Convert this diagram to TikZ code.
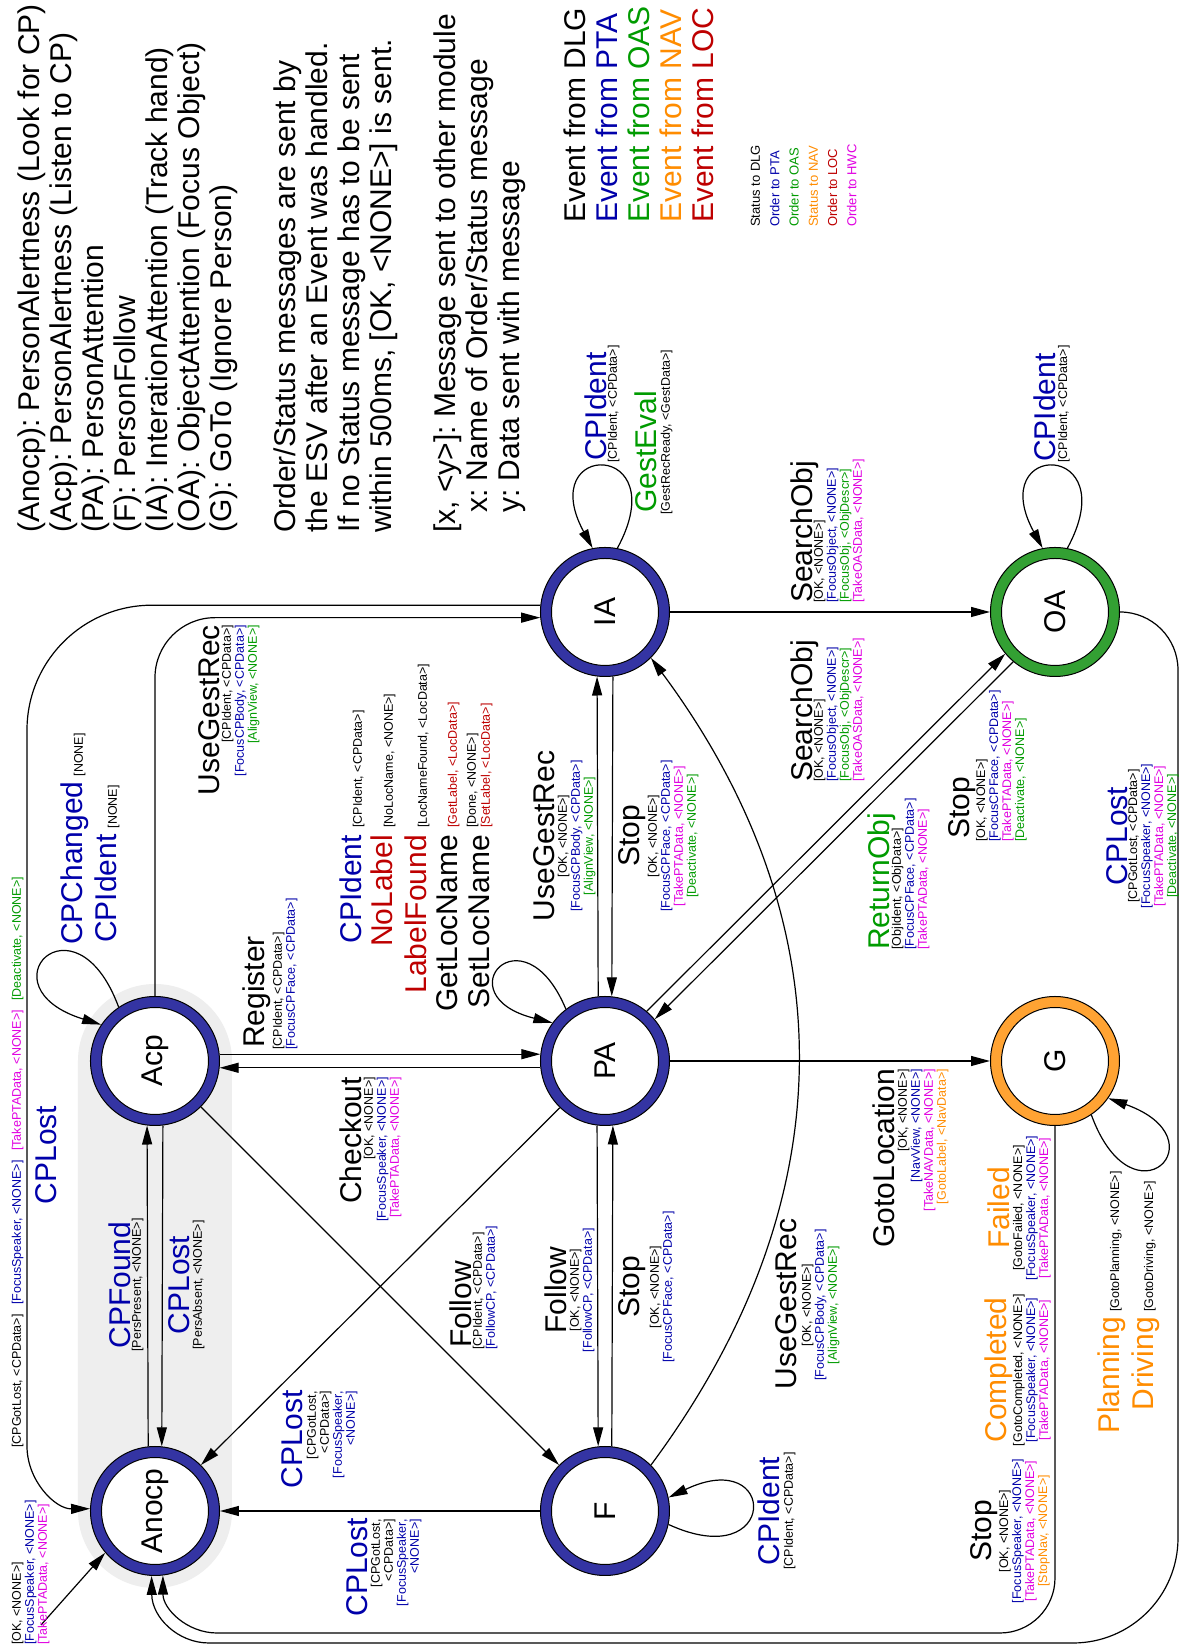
\documentclass[tikz,border=0pt]{standalone}
\usepackage{fontspec}
\setmainfont{Liberation Sans}
\usetikzlibrary{arrows.meta}
\frenchspacing

\definecolor{ringblue}{RGB}{52,52,163}
\definecolor{ringgreen}{RGB}{51,160,51}
\definecolor{ringorange}{RGB}{255,163,51}
\definecolor{txtblue}{RGB}{0,0,170}
\definecolor{txtgreen}{RGB}{0,155,0}
\definecolor{txtorange}{RGB}{255,140,0}
\definecolor{txtred}{RGB}{190,0,0}
\definecolor{txtmag}{RGB}{225,0,225}
\definecolor{bggray}{RGB}{238,238,238}

\newcommand\lblbig{\fontsize{30}{32}\selectfont}
\newcommand\lblsmall{\fontsize{12.5}{13}\selectfont}

% multi-line nodes are placed by the baseline of their last line
\tikzset{
  ring/.style={circle, draw=black, line width=1pt, fill=#1, minimum size=129pt, inner sep=0pt},
  core/.style={circle, draw=black, line width=1pt, fill=white, minimum size=107pt, inner sep=0pt, font=\lblbig},
  conn/.style={draw=black, line width=1.2pt, -{Triangle[length=19pt,width=10pt]}},
  big/.style={inner sep=0pt, font=\lblbig},
  small/.style={inner sep=0pt, font=\lblsmall},
}

\begin{document}
\begin{tikzpicture}[x=1pt, y=1pt, rotate=90, transform shape]
\useasboundingbox (0,0) rectangle (1645,1181);
\fill[white] (0,0) rectangle (1645,1181);

% ---------- legends ----------
\node[big, anchor=base west, align=left] (legend-states) at (1112,949)
  {(Anocp): PersonAlertness (Look for CP)\\(Acp): PersonAlertness (Listen to CP)\\(PA): PersonAttention\\(F): PersonFollow\\(IA): InterationAttention (Track hand)\\(OA): ObjectAttention (Focus Object)\\(G): GoTo (Ignore Person)};
\node[big, anchor=base west, align=left] (legend-status) at (1112,789)
  {Order/Status messages are sent by\\the ESV after an Event was handled.\\If no Status message has to be sent\\within 500ms, [OK, <NONE>] is sent.};
\node[big, anchor=base west, align=left] (legend-msg) at (1112,661)
  {{}[x, <y>]: Message sent to other module\\\hspace*{20pt}x: Name of Order/Status message\\\hspace*{20pt}y: Data sent with message};
\node[big, anchor=base west, align=left] (legend-events) at (1422,467)
  {Event from DLG\\\textcolor{txtblue}{Event from PTA}\\\textcolor{txtgreen}{Event from OAS}\\\textcolor{txtorange}{Event from NAV}\\\textcolor{txtred}{Event from LOC}};
\node[inner sep=0pt, font=\fontsize{13}{19.3}\selectfont, anchor=base west, align=left] (legend-colors) at (1418,324.5)
  {Status to DLG\\\textcolor{txtblue}{Order to PTA}\\\textcolor{txtgreen}{Order to OAS}\\\textcolor{txtorange}{Status to NAV}\\\textcolor{txtred}{Order to LOC}\\\textcolor{txtmag}{Order to HWC}};

% ---------- background of the alertness states ----------
\fill[bggray, rounded corners=77pt] (57,949) rectangle (661,1103);

% ---------- states ----------
\node[ring=ringblue] (Anocp) at (134,1026) {};
\node[core] (Anocp-in) at (Anocp) {Anocp};
\node[ring=ringblue] (Acp) at (584,1026) {};
\node[core] (Acp-in) at (Acp) {Acp};
\node[ring=ringblue] (F) at (134,576) {};
\node[core] (F-in) at (F) {F};
\node[ring=ringblue] (PA) at (584,576) {};
\node[core] (PA-in) at (PA) {PA};
\node[ring=ringblue] (IA) at (1033,576) {};
\node[core] (IA-in) at (IA) {IA};
\node[ring=ringorange] (G) at (584,126) {};
\node[core] (G-in) at (G) {G};
\node[ring=ringgreen] (OA) at (1033,126) {};
\node[core] (OA-in) at (OA) {OA};

% ---------- transitions ----------
\draw[conn] (Anocp.6.2) -- (Acp.173.8);
\draw[conn] (Acp.-173.8) -- (Anocp.-6.2);
\draw[conn] (Acp.-84.7) -- (PA.84.7);
\draw[conn] (PA.96.2) -- (Acp.-96.2);
\draw[conn] (PA.6.2) -- (IA.173.8);
\draw[conn] (IA.-173.8) -- (PA.-6.2);
\draw[conn] (PA.173.8) -- (F.6.2);
\draw[conn] (F.-6.2) -- (PA.-173.8);
\draw[conn] (IA.south) -- (OA.north);
\draw[conn] (PA.south) -- (G.north);
\draw[conn] (F.north) -- (Anocp.south);
\draw[conn] (Acp.-135) -- (F.45);
\draw[conn] (PA.136) -- (Anocp.-45);
\draw[conn] (PA.-40) -- (OA.130);
\draw[conn] (OA.140) -- (PA.-50);
\draw[conn, rounded corners=60pt] (Acp.east) -| (IA.95.3);
\draw[conn] (F.-45) .. controls (444,334) and (723,334) .. (IA.-135);
\draw[conn] (IA.84.7) -- (IA.84.7 |- 0,1029) arc[start angle=0, end angle=90, radius=125pt]
  -- (199,1154) .. controls (164.2,1154) and (136,1125.8) .. (Anocp.88.2);
\draw[conn] (G.west) -- (67,126) arc[start angle=-90, end angle=-180, radius=55pt]
  -- (12,964) .. controls (12,993.8) and (36,1018) .. (Anocp.187.1);
\draw[conn] (OA.south) arc[start angle=0, end angle=-90, radius=58pt]
  -- (107,3) arc[start angle=-90, end angle=-180, radius=105pt]
  -- (2,972) .. controls (2,1003.5) and (28,1029) .. (Anocp.177.3);
\coordinate (entry) at (20,1140);
\draw[conn] (entry) -- (Anocp.130);

% self loops
\draw[conn] (IA.-11) .. controls (1205,505) and (1205,647) .. (IA.11);
\draw[conn] (OA.-11) .. controls (1205,55) and (1205,197) .. (OA.11);
\draw[conn] (Acp.34) .. controls (756,1106) and (658,1201) .. (Acp.56);
\draw[conn] (PA.37) .. controls (738.5,658) and (649.5,738) .. (PA.54);
\draw[conn] (G.-146.5) .. controls (416,48) and (506,-42) .. (G.-125);
\draw[conn] (F.-102) .. controls (70,402) and (200,402) .. (F.-78);

% ---------- transition labels ----------
% Anocp <-> Acp
\node[big, txtblue, anchor=base] (l-cpfound) at (360,1050) {CPFound};
\node[small, anchor=base] (l-cpfound-d) at (360,1040) {[PersPresent, <NONE>]};
\node[big, txtblue, anchor=base] (l-cplost1) at (360,991) {CPLost};
\node[small, anchor=base] (l-cplost1-d) at (360,979) {[PersAbsent, <NONE>]};

% Acp loop
\node[big, txtblue, anchor=base west] (l-acploop1) at (700,1098) {CPChanged\hspace{5pt}{\lblsmall\textcolor{black}{[NONE]}}};
\node[big, txtblue, anchor=base west] (l-acploop2) at (702,1064) {CPIdent\hspace{6pt}{\lblsmall\textcolor{black}{[NONE]}}};

% Acp <-> PA
\node[big, anchor=base west] (l-register) at (597,916) {Register};
\node[small, anchor=base west, align=left] (l-register-d) at (595,886)
  {[CPIdent, <CPData>]\\\textcolor{txtblue}{[FocusCPFace, <CPData>]}};
\node[big, anchor=base east] (l-checkout) at (568,819) {Checkout};
\node[small, anchor=base east, align=right] (l-checkout-d) at (568,782)
  {[OK, <NONE>]\\\textcolor{txtblue}{[FocusSpeaker, <NONE>]}\\\textcolor{txtmag}{[TakePTAData, <NONE>]}};

% Acp -> IA
\node[big, anchor=base east] (l-ugr1) at (1020,961) {UseGestRec};
\node[small, anchor=base east, align=right] (l-ugr1-d) at (1020,924)
  {[CPIdent, <CPData>]\\\textcolor{txtblue}{[FocusCPBody, <CPData>]}\\\textcolor{txtgreen}{[AlignView, <NONE>]}};

% IA -> Anocp
\node[big, txtblue, anchor=base] (l-cplost2) at (490,1124) {CPLost};
\node[small, anchor=base west] (l-cplost2-d) at (197,1160)
  {[CPGotLost, <CPData>]\hspace{9.5pt}\textcolor{txtblue}{[FocusSpeaker, <NONE>]}\hspace{9.5pt}\textcolor{txtmag}{[TakePTAData, <NONE>]}\hspace{9.5pt}\textcolor{txtgreen}{[Deactivate, <NONE>]}};

% PA <-> IA
\node[big, anchor=base] (l-ugr2) at (809,626) {UseGestRec};
\node[small, anchor=base, align=center] (l-ugr2-d) at (809,588)
  {[OK, <NONE>]\\\textcolor{txtblue}{[FocusCPBody, <CPData>]}\\\textcolor{txtgreen}{[AlignView, <NONE>]}};
\node[big, anchor=base] (l-stop1) at (809,541) {Stop};
\node[small, anchor=base, align=center] (l-stop1-d) at (809,485)
  {[OK, <NONE>]\\\textcolor{txtblue}{[FocusCPFace, <CPData>]}\\\textcolor{txtmag}{[TakePTAData, <NONE>]}\\\textcolor{txtgreen}{[Deactivate, <NONE>]}};

% Acp -> F
\node[big, anchor=base west] (l-follow1) at (297,709) {Follow};
\node[small, anchor=base west, align=left] (l-follow1-d) at (295,686)
  {[CPIdent, <CPData>]\\\textcolor{txtblue}{[FollowCP, <CPData>]}};

% PA -> Anocp
\node[big, txtblue, anchor=base east] (l-cplost3) at (255,878) {CPLost};
\node[small, anchor=base east, align=right] (l-cplost3-d) at (254,826)
  {[CPGotLost,\\<CPData>]\\\textcolor{txtblue}{[FocusSpeaker,}\\\textcolor{txtblue}{<NONE>]}};

% F -> Anocp
\node[big, txtblue, anchor=base east] (l-cplost4) at (127,813) {CPLost};
\node[small, anchor=base east, align=right] (l-cplost4-d) at (126,762)
  {[CPGotLost,\\<CPData>]\\\textcolor{txtblue}{[FocusSpeaker,}\\\textcolor{txtblue}{<NONE>]}};

% PA <-> F
\node[big, anchor=base] (l-follow2) at (355,614) {Follow};
\node[small, anchor=base, align=center] (l-follow2-d) at (355,589)
  {[OK, <NONE>]\\\textcolor{txtblue}{[FollowCP, <CPData>]}};
\node[big, anchor=base] (l-stop2) at (358,541) {Stop};
\node[small, anchor=base, align=center] (l-stop2-d) at (358,509)
  {[OK, <NONE>]\\\textcolor{txtblue}{[FocusCPFace, <CPData>]}};

% F loop
\node[big, txtblue, anchor=base] (l-floop) at (134,401) {CPIdent};
\node[small, anchor=base] (l-floop-d) at (134,388) {[CPIdent, <CPData>]};

% F -> IA
\node[big, anchor=base] (l-ugr3) at (341,384) {UseGestRec};
\node[small, anchor=base, align=center] (l-ugr3-d) at (340,344)
  {[OK, <NONE>]\\\textcolor{txtblue}{[FocusCPBody, <CPData>]}\\\textcolor{txtgreen}{[AlignView, <NONE>]}};

% PA loop
\node[big, txtblue, anchor=base east] (l-paloop1) at (810,819) {CPIdent};
\node[small, anchor=base west] (l-paloop1-d) at (817,819) {[CPIdent, <CPData>]};
\node[big, txtred, anchor=base east] (l-paloop2) at (810,788) {NoLabel};
\node[small, anchor=base west] (l-paloop2-d) at (817,788) {[NoLocName, <NONE>]};
\node[big, txtred, anchor=base east] (l-paloop3) at (810,754) {LabelFound};
\node[small, anchor=base west] (l-paloop3-d) at (817,754) {[LocNameFound, <LocData>]};
\node[big, anchor=base east] (l-paloop4) at (810,723) {GetLocName};
\node[small, txtred, anchor=base west] (l-paloop4-d) at (817,724) {[GetLabel, <LocData>]};
\node[small, anchor=base west] (l-paloop4-e) at (817,705) {[Done, <NONE>]};
\node[big, anchor=base east] (l-paloop5) at (810,691) {SetLocName};
\node[small, txtred, anchor=base west] (l-paloop5-d) at (817,691) {[SetLabel, <LocData>]};

% IA loop
\node[big, txtblue, anchor=base west] (l-ialoop1) at (1184,574) {CPIdent};
\node[small, anchor=base west] (l-ialoop1-d) at (1182,564) {[CPIdent, <CPData>]};
\node[big, txtgreen, anchor=base west] (l-ialoop2) at (1132,524) {GestEval};
\node[small, anchor=base west] (l-ialoop2-d) at (1130,511) {[GestRecReady, <GestData>]};

% OA loop
\node[big, txtblue, anchor=base west] (l-oaloop) at (1183,126) {CPIdent};
\node[small, anchor=base west] (l-oaloop-d) at (1182,114) {[CPIdent, <CPData>]};

% IA -> OA and PA -> OA
\node[big, anchor=base west] (l-search1) at (1042,368) {SearchObj};
\node[small, anchor=base west, align=left] (l-search1-d) at (1042,319)
  {[OK, <NONE>]\\\textcolor{txtblue}{[FocusObject, <NONE>]}\\\textcolor{txtgreen}{[FocusObj, <ObjDescr>]}\\\textcolor{txtmag}{[TakeOASData, <NONE>]}};
\node[big, anchor=base west] (l-search2) at (863,368) {SearchObj};
\node[small, anchor=base west, align=left] (l-search2-d) at (863,319)
  {[OK, <NONE>]\\\textcolor{txtblue}{[FocusObject, <NONE>]}\\\textcolor{txtgreen}{[FocusObj, <ObjDescr>]}\\\textcolor{txtmag}{[TakeOASData, <NONE>]}};

% OA -> PA
\node[big, txtgreen, anchor=base west] (l-return) at (695,291) {ReturnObj};
\node[small, anchor=base west, align=left] (l-return-d) at (695,254)
  {[ObjIdent, <ObjData>]\\\textcolor{txtblue}{[FocusCPFace, <CPData>]}\\\textcolor{txtmag}{[TakePTAData, <NONE>]}};
\node[big, anchor=base west] (l-stop3) at (806,211) {Stop};
\node[small, anchor=base west, align=left] (l-stop3-d) at (803,157)
  {[OK, <NONE>]\\\textcolor{txtblue}{[FocusCPFace, <CPData>]}\\\textcolor{txtmag}{[TakePTAData, <NONE>]}\\\textcolor{txtgreen}{[Deactivate, <NONE>]}};

% OA -> Anocp
\node[big, txtblue, anchor=base] (l-cplost5) at (809,54) {CPLost};
\node[small, anchor=base, align=center] (l-cplost5-d) at (809,5)
  {[CPGotLost, <CPData>]\\\textcolor{txtblue}{[FocusSpeaker, <NONE>]}\\\textcolor{txtmag}{[TakePTAData, <NONE>]}\\\textcolor{txtgreen}{[Deactivate, <NONE>]}};

% PA -> G
\node[big, anchor=base east] (l-goto) at (576,286) {GotoLocation};
\node[small, anchor=base east, align=right] (l-goto-d) at (576,235)
  {[OK, <NONE>]\\\textcolor{txtblue}{[NavView, <NONE>]}\\\textcolor{txtmag}{[TakeNAVData, <NONE>]}\\\textcolor{txtorange}{[GotoLabel, <NavData>]}};

% G loop
\node[big, txtorange, anchor=base east] (l-gloop1) at (328,62) {Planning};
\node[small, anchor=base west] (l-gloop1-d) at (333,62) {[GotoPlanning, <NONE>]};
\node[big, txtorange, anchor=base east] (l-gloop2) at (328,28) {Driving};
\node[small, anchor=base west] (l-gloop2-d) at (333,28) {[GotoDriving, <NONE>]};

% G -> Anocp
\node[big, txtorange, anchor=base] (l-failed) at (437,171) {Failed};
\node[small, anchor=base, align=center] (l-failed-d) at (437,133)
  {[GotoFailed, <NONE>]\\\textcolor{txtblue}{[FocusSpeaker, <NONE>]}\\\textcolor{txtmag}{[TakePTAData, <NONE>]}};
\node[big, txtorange, anchor=base] (l-completed) at (275,174) {Completed};
\node[small, anchor=base, align=center] (l-completed-d) at (275,133)
  {[GotoCompleted, <NONE>]\\\textcolor{txtblue}{[FocusSpeaker, <NONE>]}\\\textcolor{txtmag}{[TakePTAData, <NONE>]}};
\node[big, anchor=base] (l-stop4) at (114,189) {Stop};
\node[small, anchor=base, align=center] (l-stop4-d) at (114,134)
  {[OK, <NONE>]\\\textcolor{txtblue}{[FocusSpeaker, <NONE>]}\\\textcolor{txtmag}{[TakePTAData, <NONE>]}\\\textcolor{txtorange}{[StopNav, <NONE>]}};

% entry into Anocp
\node[small, anchor=base west, align=left] (l-entry) at (0,1134)
  {[OK, <NONE>]\\\textcolor{txtblue}{[FocusSpeaker, <NONE>]}\\\textcolor{txtmag}{[TakePTAData, <NONE>]}};

\end{tikzpicture}
\end{document}
